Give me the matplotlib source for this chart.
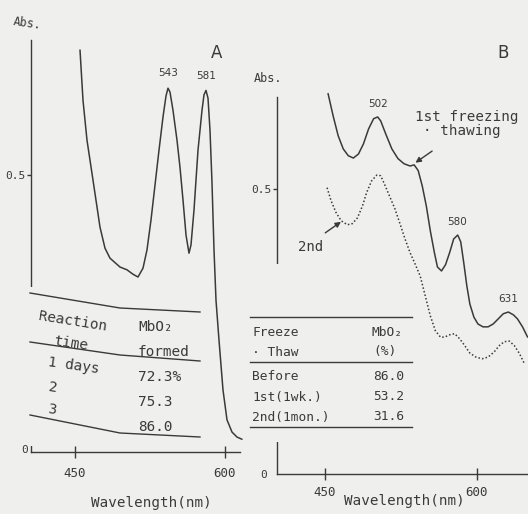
import matplotlib
matplotlib.use("Agg")
import matplotlib.pyplot as plt
from matplotlib.lines import Line2D
from matplotlib.patches import Rectangle

plt.rcParams['font.family'] = ['DejaVu Sans Mono', 'DejaVu Sans']

# Panel A spectrum (wavelength nm, absorbance)
wl_a = [455, 458, 462, 468, 475, 480, 485, 495, 502, 508, 513, 518, 522, 526, 530,
        534, 538, 541, 543, 545, 548, 552, 555, 558, 561, 564, 566, 569, 573, 577,
        579, 581, 583, 585, 587, 589, 591, 594, 598, 602, 607, 612, 617]
abs_a = [0.726, 0.635, 0.563, 0.491, 0.406, 0.368, 0.350, 0.334, 0.329, 0.321, 0.316,
         0.332, 0.365, 0.419, 0.482, 0.545, 0.605, 0.643, 0.657, 0.650, 0.617, 0.563,
         0.514, 0.455, 0.392, 0.359, 0.374, 0.437, 0.545, 0.617, 0.645, 0.653, 0.639,
         0.581, 0.486, 0.365, 0.274, 0.202, 0.112, 0.058, 0.036, 0.027, 0.023]

# Panel B, 1st freezing-thawing (solid)
wl_b1 = [453, 458, 463, 468, 473, 478, 483, 488, 493, 498, 502, 505, 510, 516, 522,
         528, 534, 538, 542, 546, 550, 554, 558, 561, 565, 569, 573, 577, 581, 584,
         587, 590, 593, 597, 601, 606, 611, 616, 621, 626, 631, 636, 640, 645, 650]
abs_b1 = [0.667, 0.628, 0.593, 0.570, 0.558, 0.554, 0.561, 0.579, 0.605, 0.623, 0.626,
          0.619, 0.596, 0.570, 0.553, 0.544, 0.540, 0.542, 0.532, 0.505, 0.470, 0.426,
          0.388, 0.363, 0.356, 0.367, 0.388, 0.412, 0.419, 0.407, 0.370, 0.330, 0.298,
          0.275, 0.263, 0.258, 0.258, 0.263, 0.272, 0.281, 0.284, 0.279, 0.272, 0.258,
          0.240]

# Panel B, 2nd freezing-thawing (dotted)
wl_b2 = [452, 456, 461, 466, 472, 477, 482, 487, 491, 496, 501, 505, 509, 514, 519,
         524, 529, 534, 539, 544, 549, 554, 559, 564, 568, 573, 578, 583, 588, 593,
         599, 605, 611, 617, 622, 627, 632, 637, 642, 647]
abs_b2 = [0.502, 0.479, 0.458, 0.444, 0.437, 0.439, 0.449, 0.470, 0.493, 0.514, 0.524,
          0.523, 0.507, 0.486, 0.465, 0.439, 0.412, 0.388, 0.368, 0.347, 0.312, 0.277,
          0.251, 0.240, 0.240, 0.244, 0.246, 0.237, 0.225, 0.212, 0.205, 0.202, 0.205,
          0.214, 0.225, 0.232, 0.233, 0.225, 0.211, 0.193]

peaks_a = [543, 581]
peaks_b = [502, 580, 631]

# Tables
reaction_time = ['1 days', '2', '3']
mbo2_formed = ['72.3%', '75.3', '86.0']
freeze_rows = ['Before', '1st(1wk.)', '2nd(1mon.)']
mbo2_pct = ['86.0', '53.2', '31.6']

W, H = 528, 514
ink = '#3a3a3a'
bg = '#efefed'

fig = plt.figure(figsize=(W / 100, H / 100), dpi=100, facecolor=bg)


def px(x, y):
    return x / W, 1 - y / H


def ftext(x, y, s, **kw):
    kw.setdefault('color', ink)
    kw.setdefault('va', 'center')
    kw.setdefault('zorder', 4)
    fig.text(*px(x, y), s, transform=fig.transFigure, **kw)


def fline(pts, **kw):
    xs = [p[0] / W for p in pts]
    ys = [1 - p[1] / H for p in pts]
    fig.add_artist(Line2D(xs, ys, color=ink, lw=1.0, zorder=4,
                          transform=fig.transFigure, **kw))


def cover(x0, y0, x1, y1):
    fig.add_artist(Rectangle(px(x0, y1), (x1 - x0) / W, (y1 - y0) / H,
                             transform=fig.transFigure, facecolor=bg,
                             edgecolor='none', zorder=2))


def style_axes(ax, xpad):
    ax.set_facecolor('none')
    for s in ['top', 'right']:
        ax.spines[s].set_visible(False)
    for s in ['left', 'bottom']:
        ax.spines[s].set_color(ink)
        ax.spines[s].set_linewidth(1.0)
    ax.set_xticks([450, 600])
    ax.set_xticklabels(['450', '600'])
    ax.set_yticks([0.5])
    ax.set_yticklabels(['0.5'])
    ax.tick_params(axis='x', direction='inout', length=9, width=1.0, colors=ink,
                   labelsize=9, pad=xpad)
    ax.tick_params(axis='y', direction='out', length=3, width=1.0, colors=ink,
                   labelsize=8, pad=1)


line_kw = dict(color=ink, lw=1.1, clip_on=False,
               solid_joinstyle='round', solid_capstyle='round')

# Panel A
axA = fig.add_axes([31 / W, 1 - 452 / H, (240 - 31) / W, (452 - 40) / H])
axA.plot(wl_a, abs_a, **line_kw)
axA.set_xlim(406, 615)
axA.set_ylim(0, 0.744)
style_axes(axA, 6)
for p in peaks_a:
    i = min(range(len(wl_a)), key=lambda k: abs(wl_a[k] - p))
    axA.annotate(str(p), (p, abs_a[i]), xytext=(0, 7), textcoords='offset points',
                 ha='center', va='bottom', fontsize=7.5, color=ink, family='DejaVu Sans')

# Panel B
axB = fig.add_axes([277 / W, 1 - 474 / H, (528 - 277) / W, (474 - 97) / H])
axB.plot(wl_b1, abs_b1, **line_kw)
axB.plot(wl_b2, abs_b2, color=ink, lw=1.1, linestyle=(0, (1, 1.4)), clip_on=False)
axB.set_xlim(402.6, 650.4)
axB.set_ylim(0, 0.661)
style_axes(axB, 4)
for p in peaks_b:
    i = min(range(len(wl_b1)), key=lambda k: abs(wl_b1[k] - p))
    axB.annotate(str(p), (p, abs_b1[i]), xytext=(0, 6), textcoords='offset points',
                 ha='center', va='bottom', fontsize=7.5, color=ink, family='DejaVu Sans')

axB.annotate('', xy=(537, 0.543), xytext=(558, 0.569),
             arrowprops=dict(arrowstyle='-|>', color=ink, lw=1.0, mutation_scale=8))
axB.annotate('', xy=(468, 0.445), xytext=(448, 0.420),
             arrowprops=dict(arrowstyle='-|>', color=ink, lw=1.0, mutation_scale=8))

# labels
ftext(12, 24, 'Abs.', fontsize=8.5, rotation=-8)
ftext(25, 450, '0', fontsize=8, ha='center')
ftext(217, 53, 'A', fontsize=12, ha='center', family='DejaVu Sans')
ftext(151, 503, 'Wavelength(nm)', fontsize=10.3, ha='center')

ftext(254, 78, 'Abs.', fontsize=8.5)
ftext(264, 475, '0', fontsize=8, ha='center')
ftext(503, 53, 'B', fontsize=12, ha='center', family='DejaVu Sans')
ftext(404, 501, 'Wavelength(nm)', fontsize=10.3, ha='center')
ftext(415, 117, '1st freezing', fontsize=10.3)
ftext(423, 131, '· thawing', fontsize=10.3)
ftext(298, 247, '2nd', fontsize=10)

# Table A
cover(18, 287, 206, 446)
fline([(30, 293), (120, 308), (200, 312)])
fline([(30, 342), (120, 355), (200, 361)])
fline([(30, 415), (120, 433), (200, 437)])
ftext(38, 321, 'Reaction', fontsize=10.4, rotation=-9)
ftext(53, 343, 'time', fontsize=10.4, rotation=-8)
for k, (t, v) in enumerate(zip(reaction_time, mbo2_formed)):
    ftext(47, 366 + 22 * k, t, fontsize=10.4, rotation=-8)
    ftext(138, 377 + 25 * k, v, fontsize=10.4)
ftext(138, 327, 'MbO₂', fontsize=10.4)
ftext(138, 352, 'formed', fontsize=10.4)

# Table B
cover(245, 264, 413, 442)
fline([(250, 317), (412, 317)])
fline([(250, 362), (412, 362)])
fline([(250, 427), (412, 427)])
ftext(252, 332, 'Freeze', fontsize=9.3)
ftext(252, 352, '· Thaw', fontsize=9.3)
ftext(372, 332, 'MbO₂', fontsize=9.3)
ftext(373, 352, '(%)', fontsize=9.3)
for k, (t, v) in enumerate(zip(freeze_rows, mbo2_pct)):
    ftext(252, 377 + 20 * k, t, fontsize=9.3)
    ftext(404, 377 + 20 * k, v, fontsize=9.3, ha='right')

fig.savefig('out.png', dpi=100, facecolor=bg)
